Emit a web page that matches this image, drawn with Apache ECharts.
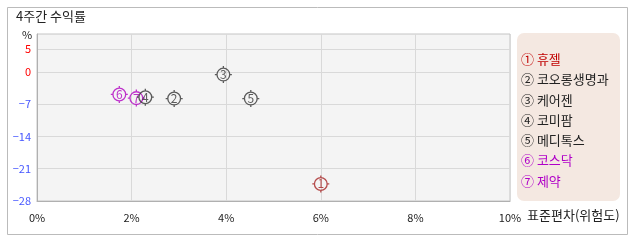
<!DOCTYPE html>
<html><head><meta charset="utf-8">
<script src="https://cdn.jsdelivr.net/npm/echarts@6/dist/echarts.min.js"></script>
<style>html,body{margin:0;padding:0;background:#fff}#c{width:638px;height:242px}</style>
</head><body><div id="c"></div>
<script>
const names = ['휴젤','코오롱생명과','케어젠','코미팜','메디톡스','코스닥','제약'];
const marks = ['①','②','③','④','⑤','⑥','⑦'];
const stdev = [6.0, 2.9, 3.94, 2.29, 4.52, 1.74, 2.10];
const returns = [-24.3, -5.8, -0.6, -5.5, -5.8, -4.9, -5.7];
const yTicks = [-28, -21, -14, -7, 0, 5];
const xTicks = [0, 2, 4, 6, 8, 10];
const colors = ['#a52020','#333333','#333333','#333333','#333333','#b000c0','#b000c0'];
const textColors = ['#c00000','#222222','#222222','#222222','#222222','#b000c8','#b000c8'];
const font = '"Noto Sans CJK KR", "DejaVu Sans", sans-serif';
const markerPath = 'path://M8,0L8,2M8,14L8,16M0,8L2,8M14,8L16,8M14,8A6,6 0 1 1 2,8A6,6 0 1 1 14,8Z';

const chart = echarts.init(document.getElementById('c'), null, {renderer:'canvas'});
const series = names.map((n,i)=>({
  type:'scatter', name: marks[i]+' '+n,
  data:[[stdev[i], returns[i]]],
  symbol: markerPath, symbolSize: 17,
  itemStyle:{color:'rgba(0,0,0,0)', borderColor: colors[i], borderWidth:1.3},
  label:{show:true, position:'inside', formatter: String(i+1), color: colors[i], fontSize:12, fontFamily:font},
  z: 3 + (i<5 ? 1 : 0)
}));
chart.setOption({
  animation:false,
  textStyle:{fontFamily:font},
  graphic:[
    {type:'rect', shape:{x:7.5,y:7.5,width:620,height:227}, style:{fill:'none', stroke:'#bbbbbb', lineWidth:1}, z:-10},
    {type:'rect', shape:{x:517,y:33,width:103,height:168,r:7}, style:{fill:'#f4e8e1'}, z:-5},
    {type:'text', left:16, top:10, style:{text:'4주간 수익률', fill:'#222', font:'13px '+font}},
    {type:'text', left:22, top:29, style:{text:'%', fill:'#222', font:'11px '+font}}
  ],
  grid:{left:37, top:34, right:128, bottom:41, show:true, backgroundColor:'#f4f4f4', borderColor:'#c4c4c4', borderWidth:1},
  legend:{
    orient:'vertical', left:511, top:47, itemWidth:0, itemHeight:14, itemGap:6.8,
    icon:'none', selectedMode:false,
    data: names.map((n,i)=>({name: marks[i]+' '+n, textStyle:{color:textColors[i]}})),
    textStyle:{fontSize:13, fontFamily:font}
  },
  xAxis:{
    type:'value', min:xTicks[0], max:xTicks[xTicks.length-1], interval:2,
    name:'표준편차(위험도)', nameLocation:'end', nameGap:17,
    nameTextStyle:{color:'#222', fontSize:13, verticalAlign:'top', padding:[8,0,0,0]},
    axisLine:{show:true, onZero:false, lineStyle:{color:'#b0b0b0', width:1}},
    axisTick:{show:false},
    axisLabel:{formatter:v=>v+'%', color:'#222', fontSize:11, margin:11},
    splitLine:{show:true, lineStyle:{color:'#d9d9d9', width:1}}
  },
  yAxis:{
    type:'value', min:-28, max:8.2,
    axisLine:{show:true, onZero:false, lineStyle:{color:'#b0b0b0', width:1}},
    axisTick:{show:false, customValues:yTicks},
    axisLabel:{customValues:yTicks, color:v=>v>=0?'#ff0000':'#4455ff', fontSize:11, margin:6,
      formatter:v=>v<0?('−'+Math.abs(v)):String(v)},
    splitLine:{show:true, lineStyle:{color:'#d9d9d9', width:1}}
  },
  series
});
</script></body></html>
